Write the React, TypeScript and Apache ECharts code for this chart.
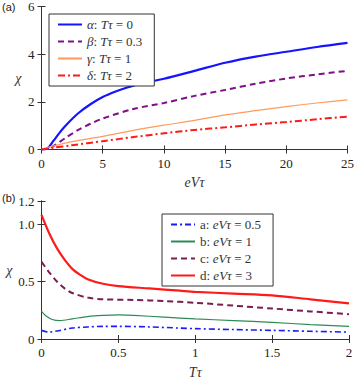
import React, { useEffect, useRef } from "react";
import * as echarts from "echarts";

// Panel (a): chi vs eV*tau
const alphaPts: [number, number][] = [[0,0],[0.5,0.05],[1,0.38],[1.5,0.72],[2,1.02],[3,1.52],[4,1.9],[5,2.2],[6,2.42],[7,2.6],[8,2.75],[10,2.97],[12.5,3.3],[15,3.64],[17.5,3.9],[20,4.1],[22.5,4.3],[25,4.47]];
const betaPts: [number, number][] = [[0,0],[0.5,0.03],[1,0.15],[2,0.5],[3,0.82],[4,1.08],[5,1.3],[7.5,1.7],[10,1.95],[12.5,2.25],[15,2.5],[17.5,2.76],[20,2.98],[22.5,3.15],[25,3.3]];
const gammaPts: [number, number][] = [[0,0],[1,0.15],[2.5,0.33],[5,0.55],[7.5,0.8],[10,1.02],[12.5,1.22],[15,1.45],[17.5,1.63],[20,1.8],[22.5,1.95],[25,2.08]];
const deltaPts: [number, number][] = [[0,0],[1,0.08],[2.5,0.18],[5,0.35],[7.5,0.52],[10,0.68],[12.5,0.82],[15,0.93],[17.5,1.05],[20,1.15],[22.5,1.27],[25,1.38]];
const namesA = ["α: Tτ = 0", "β: Tτ = 0.3", "γ: Tτ = 1", "δ: Tτ = 2"];

// Panel (b): chi vs T*tau
const aPts: [number, number][] = [[0,0.075],[0.05,0.06],[0.1,0.07],[0.2,0.095],[0.3,0.105],[0.4,0.11],[0.5,0.11],[0.7,0.105],[0.9,0.095],[1,0.09],[1.25,0.082],[1.5,0.075],[1.75,0.067],[2,0.06]];
const bPts: [number, number][] = [[0,0.24],[0.03,0.2],[0.07,0.17],[0.12,0.16],[0.2,0.175],[0.3,0.195],[0.4,0.205],[0.5,0.21],[0.6,0.205],[0.8,0.19],[1,0.175],[1.25,0.16],[1.5,0.145],[1.75,0.125],[2,0.11]];
const cPts: [number, number][] = [[0,0.67],[0.05,0.58],[0.1,0.5],[0.15,0.44],[0.2,0.4],[0.3,0.36],[0.4,0.345],[0.6,0.34],[0.8,0.33],[1,0.315],[1.25,0.29],[1.5,0.265],[1.75,0.24],[2,0.215]];
const dPts: [number, number][] = [[0,1.08],[0.05,0.92],[0.1,0.79],[0.15,0.69],[0.2,0.61],[0.25,0.56],[0.3,0.52],[0.4,0.48],[0.5,0.46],[0.7,0.44],[0.9,0.42],[1,0.41],[1.25,0.395],[1.5,0.38],[1.75,0.345],[2,0.31]];
const namesB = ["a: eVτ = 0.5", "b: eVτ = 1", "c: eVτ = 2", "d: eVτ = 3"];

const SERIF = "'Liberation Serif', 'DejaVu Serif', serif";

const richStyles = {
  i: { fontFamily: SERIF, fontStyle: "italic", fontSize: 13, color: "#333" },
  r: { fontFamily: SERIF, fontStyle: "normal", fontSize: 13, color: "#333" },
};

function fmtA(name: string) {
  const [greek, rest] = name.split(": ");
  const val = rest.split("= ")[1];
  return `{i|${greek}}{r|: }{i|Tτ}{r| = ${val}}`;
}
function fmtB(name: string) {
  const [lab, rest] = name.split(": ");
  const val = rest.split("= ")[1];
  return `{r|${lab}: }{i|eVτ}{r| = ${val}}`;
}

export default function App() {
  const ref = useRef<HTMLDivElement>(null);
  useEffect(() => {
    if (!ref.current) return;
    const chart = echarts.init(ref.current, undefined, { renderer: "svg" });
    const tickLabel = { fontFamily: SERIF, fontSize: 13, color: "#222" };
    const mainAxis = (extra: any) => ({
      type: "value",
      axisLine: { show: true, lineStyle: { color: "#333", width: 1 } },
      axisTick: { show: true, inside: true, length: 4, lineStyle: { color: "#333" } },
      splitLine: { show: false },
      axisLabel: { ...tickLabel, margin: 7 },
      ...extra,
    });
    const sideAxis = (extra: any) => ({
      type: "value",
      axisLine: { show: true, lineStyle: { color: "#333", width: 1 } },
      axisTick: { show: true, inside: true, length: 4, lineStyle: { color: "#333" } },
      splitLine: { show: false },
      axisLabel: { show: false },
      ...extra,
    });
    const legendBase = {
      orient: "vertical",
      backgroundColor: "#fff",
      borderColor: "#333",
      borderWidth: 1,
      borderRadius: 0,
      padding: [4, 12, 4, 8],
      itemWidth: 24,
      itemHeight: 12,
      itemGap: 4,
      itemStyle: { opacity: 0 },
      textStyle: { fontFamily: SERIF, fontSize: 13, color: "#333", rich: richStyles },
    };
    const mk = (name: string, data: [number, number][], idx: number, color: string, width: number, type: any) => ({
      type: "line",
      name,
      data,
      xAxisIndex: idx,
      yAxisIndex: idx,
      showSymbol: false,
      symbol: "none",
      smooth: 0.3,
      color,
      lineStyle: { color, width, type },
    });
    chart.setOption({
      animation: false,
      grid: [
        { left: 41.5, right: 8, top: 6, height: 143.5 },
        { left: 41.5, right: 8, top: 201, height: 143 },
      ],
      xAxis: [
        mainAxis({ gridIndex: 0, min: 0, max: 25, interval: 5, name: "eVτ", nameLocation: "middle", nameGap: 26,
          nameTextStyle: { fontFamily: SERIF, fontStyle: "italic", fontSize: 14, color: "#333" } }),
        mainAxis({ gridIndex: 1, min: 0, max: 2, interval: 0.5, name: "Tτ", nameLocation: "middle", nameGap: 26,
          nameTextStyle: { fontFamily: SERIF, fontStyle: "italic", fontSize: 14, color: "#333" },
          axisLabel: { ...tickLabel, margin: 7, formatter: (v: number) => (v === 0 || v === 1 || v === 2 ? String(v) : v.toFixed(1)) } }),
        sideAxis({ gridIndex: 0, min: 0, max: 25, interval: 5, position: "top" }),
        sideAxis({ gridIndex: 1, min: 0, max: 2, interval: 0.5, position: "top" }),
      ],
      yAxis: [
        mainAxis({ gridIndex: 0, min: 0, max: 6, interval: 2, name: "χ", nameLocation: "middle", nameRotate: 0, nameGap: 20,
          nameTextStyle: { fontFamily: SERIF, fontStyle: "italic", fontSize: 14, color: "#333" } }),
        mainAxis({ gridIndex: 1, min: 0, max: 1.2, interval: 0.5, name: "χ", nameLocation: "middle", nameRotate: 0, nameGap: 22,
          nameTextStyle: { fontFamily: SERIF, fontStyle: "italic", fontSize: 14, color: "#333" },
          axisLabel: { ...tickLabel, margin: 7, formatter: (v: number) => (v === 0 ? "0" : v.toFixed(1)) } }),
        sideAxis({ gridIndex: 0, min: 0, max: 6, interval: 2, position: "right" }),
        sideAxis({ gridIndex: 1, min: 0, max: 1.2, interval: 0.5, position: "right" }),
      ],
      legend: [
        { ...legendBase, data: namesA, left: 49, top: 14, formatter: fmtA },
        { ...legendBase, data: namesB, left: 162, top: 214, formatter: fmtB },
      ],
      graphic: [
        { type: "text", left: 2, top: 1, style: { text: "(a)", fontFamily: "Liberation Sans", fontSize: 11, fill: "#222" } },
        { type: "text", left: 2, top: 192, style: { text: "(b)", fontFamily: "Liberation Sans", fontSize: 11, fill: "#222" } },
      ],
      series: [
        mk(namesA[0], alphaPts, 0, "#1414ff", 2.2, "solid"),
        mk(namesA[1], betaPts, 0, "#80108a", 2, [6, 4]),
        mk(namesA[2], gammaPts, 0, "#ff9a5c", 1.2, "solid"),
        mk(namesA[3], deltaPts, 0, "#ff1a1a", 2, [7, 3, 2, 3]),
        mk(namesB[0], aPts, 1, "#1a1aff", 1.6, [6, 3, 2, 3]),
        mk(namesB[1], bPts, 1, "#2e8b57", 1.2, "solid"),
        mk(namesB[2], cPts, 1, "#7a1e4e", 2, [6, 4]),
        mk(namesB[3], dPts, 1, "#ff1a1a", 2.2, "solid"),
      ],
    });
    return () => chart.dispose();
  }, []);
  return <div ref={ref} style={{ width: 357, height: 380, position: "absolute", left: 0, top: 0 }} />;
}
